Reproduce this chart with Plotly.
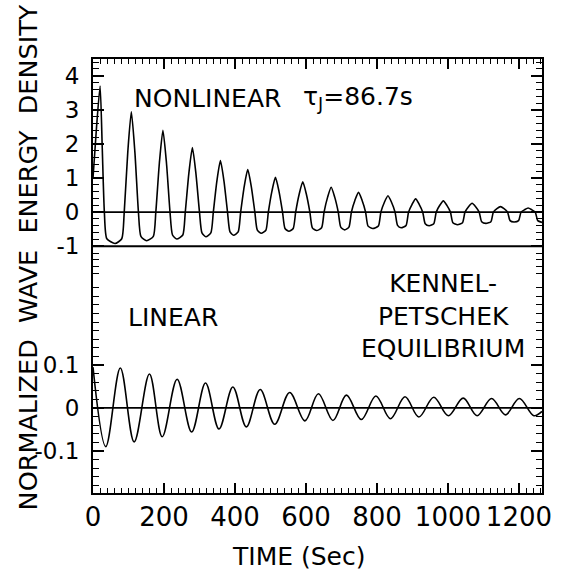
import plotly.graph_objects as go

# ---------------- data ----------------
# Nonlinear run (upper panel): time (s) vs normalized wave energy density
nl_time = [0, 10, 20, 26, 32, 39, 62, 81, 88,
           98, 108, 118, 128, 135, 151, 170, 177,
           187, 197, 207, 217, 224, 236, 253, 260,
           270, 280, 290, 300, 307, 318, 332, 339,
           349, 359, 369, 379, 386, 396, 409, 416,
           426, 436, 446, 456, 463, 474, 487, 494,
           504, 514, 524, 534, 541, 552, 564, 571,
           581, 591, 601, 611, 618, 630, 644, 651,
           661, 671, 681, 691, 698, 709, 721, 728,
           738, 748, 758, 768, 775, 788, 804, 811,
           821, 831, 841, 851, 858, 868, 882, 889,
           899, 909, 919, 929, 936, 947, 960, 967,
           977, 987, 997, 1007, 1014, 1027, 1041, 1048,
           1058, 1068, 1078, 1088, 1095, 1107, 1121, 1128,
           1138, 1148, 1158, 1168, 1175, 1186, 1199, 1206,
           1216, 1226, 1236, 1246, 1253, 1265]
nl_value = [1.0, 2.5, 3.7, 1.9, 0, -0.78, -0.92, -0.78, 0,
            1.76, 2.94, 1.76, 0, -0.71, -0.84, -0.71, 0,
            1.44, 2.40, 1.44, 0, -0.67, -0.79, -0.67, 0,
            1.13, 1.89, 1.13, 0, -0.61, -0.72, -0.61, 0,
            0.91, 1.51, 0.91, 0, -0.58, -0.68, -0.58, 0,
            0.75, 1.25, 0.75, 0, -0.53, -0.62, -0.53, 0,
            0.61, 1.02, 0.61, 0, -0.48, -0.56, -0.48, 0,
            0.53, 0.89, 0.53, 0, -0.46, -0.54, -0.46, 0,
            0.44, 0.73, 0.44, 0, -0.44, -0.52, -0.44, 0,
            0.35, 0.58, 0.35, 0, -0.41, -0.48, -0.41, 0,
            0.29, 0.48, 0.29, 0, -0.39, -0.46, -0.39, 0,
            0.23, 0.39, 0.23, 0, -0.34, -0.40, -0.34, 0,
            0.20, 0.33, 0.20, 0, -0.31, -0.37, -0.31, 0,
            0.16, 0.26, 0.16, 0, -0.28, -0.33, -0.28, 0,
            0.10, 0.16, 0.10, 0, -0.25, -0.29, -0.25, 0,
            0.07, 0.12, 0.07, 0, -0.25, -0.30]

# Linear run (lower panel)
lin_time = [0, 36, 77, 116, 159, 195, 237, 278, 317, 355, 394, 432, 471, 512,
            554, 597, 635, 676, 714, 756, 797, 838, 879, 918, 960, 1001, 1043,
            1082, 1123, 1162, 1201, 1242, 1265]
lin_value = [0.095, -0.09, 0.093, -0.079, 0.079, -0.067, 0.067, -0.056, 0.058,
             -0.049, 0.049, -0.044, 0.043, -0.038, 0.036, -0.030, 0.033, -0.029,
             0.030, -0.027, 0.028, -0.025, 0.026, -0.021, 0.025, -0.018, 0.023,
             -0.018, 0.022, -0.016, 0.022, -0.018, -0.008]

x_tick_step = 200
upper_ticks = [-1, 0, 1, 2, 3, 4]
upper_tick_labels = ["-1", "0", "1", "2", "3", "4"]
lower_ticks = [-0.1, 0, 0.1]
lower_tick_labels = ["-0.1", "0", "0.1"]
kp_level = 0        # Kennel-Petschek equilibrium
floor_level = -1    # zero wave energy

FONT = "DejaVu Sans"
INK = "black"

# ---------------- geometry ----------------
W, H = 562, 570
ML, MR, MT, MB = 93, 10, 59, 77
PW, PH = W - ML - MR, H - MT - MB
X_RANGE = [0, 1265]
UP_RANGE = [-1.99, 4.49]
LOW_RANGE = [-0.198, 0.298]


def px(x):
    return (x - ML) / PW


def py(y):
    return (H - MB - y) / PH


split = py(280)

fig = go.Figure()
# reference levels (drawn as traces spanning the time axis)
for level, xa, ya in [(kp_level, "x2", "y"), (floor_level, "x2", "y"),
                      (kp_level, "x", "y2")]:
    fig.add_trace(go.Scatter(x=X_RANGE, y=[level, level], xaxis=xa, yaxis=ya,
                             mode="lines", line=dict(color=INK, width=1.8),
                             hoverinfo="skip"))
fig.add_trace(go.Scatter(x=nl_time, y=nl_value, xaxis="x2", yaxis="y",
                         mode="lines", name="nonlinear",
                         line=dict(color=INK, width=1.6, shape="spline",
                                   smoothing=0.6)))
fig.add_trace(go.Scatter(x=lin_time, y=lin_value, xaxis="x", yaxis="y2",
                         mode="lines", name="linear",
                         line=dict(color=INK, width=1.6, shape="spline",
                                   smoothing=1.0)))

base = dict(showgrid=False, zeroline=False, ticks="inside", tickcolor=INK,
            showline=True, linecolor=INK, linewidth=2, tickwidth=1.5)


def minor(step, length):
    return dict(dtick=step, ticklen=length, ticks="inside",
                tickcolor=INK, tickwidth=1.2)


fig.update_layout(
    width=W, height=H,
    margin=dict(l=ML, r=MR, t=MT, b=MB),
    paper_bgcolor="white", plot_bgcolor="white",
    font=dict(family=FONT, color=INK),
    showlegend=False,
    xaxis=dict(domain=[0, 1], range=X_RANGE, anchor="y2",
               tickmode="linear", tick0=0, dtick=x_tick_step,
               ticklen=10, tickfont=dict(size=26, family=FONT, color=INK),
               minor=minor(20, 5), **base),
    xaxis2=dict(domain=[0, 1], range=X_RANGE, anchor="y", side="top",
                tickmode="linear", tick0=0, dtick=x_tick_step,
                showticklabels=False, ticklen=10, minor=minor(20, 5), **base),
    yaxis=dict(domain=[split, 1], range=UP_RANGE, anchor="x2", mirror="ticks",
               tickmode="array", tickvals=upper_ticks,
               ticktext=upper_tick_labels, ticklen=11, ticklabelstandoff=7,
               tickfont=dict(size=23, family=FONT, color=INK),
               minor=minor(0.2, 6), **base),
    yaxis2=dict(domain=[0, split], range=LOW_RANGE, anchor="x", mirror="ticks",
                tickmode="array", tickvals=lower_ticks,
                ticktext=lower_tick_labels, ticklen=11, ticklabelstandoff=7,
                tickfont=dict(size=23, family=FONT, color=INK),
                minor=minor(0.02, 6), **base),
)


def label(text, x, y, size, xanchor="left", angle=0):
    fig.add_annotation(text=text, xref="paper", yref="paper", x=x, y=y,
                       xanchor=xanchor, yanchor="middle", showarrow=False,
                       textangle=angle, align="center",
                       font=dict(size=size, family=FONT, color=INK))


label("NONLINEAR", px(133), py(98), 25)
label("τ<sub>J</sub>=86.7s", px(306), py(98), 25)
label("LINEAR", px(127), py(317), 25)
label("KENNEL-<br>PETSCHEK<br>EQUILIBRIUM", px(451), py(316), 25, xanchor="center")
label("NORMALIZED  WAVE  ENERGY  DENSITY", px(27), py(257), 25.5, xanchor="center", angle=-90)
label("TIME (Sec)", px(303), py(556), 25, xanchor="center")

fig.write_html("out.html")
